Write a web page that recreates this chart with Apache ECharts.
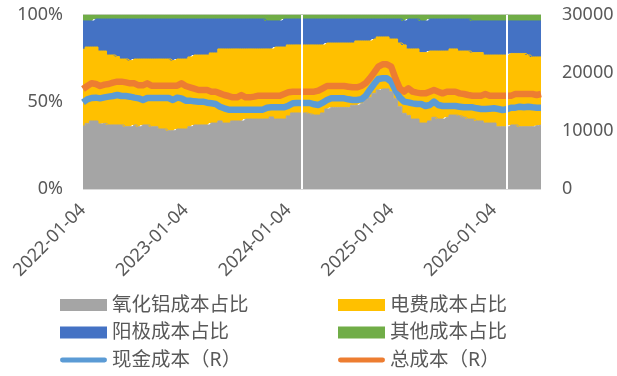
<!DOCTYPE html>
<html>
<head>
<meta charset="utf-8">
<style>
  html, body { margin: 0; padding: 0; background: #ffffff; }
  #chart { width: 617px; height: 376px; }
</style>
<script src="https://cdn.jsdelivr.net/npm/echarts@6/dist/echarts.min.js"></script>
</head>
<body>
<div id="chart"></div>
<script>
// Half-monthly observations (4th and 18th of each month), 2022-01-04 .. 2026-06-18
const categories = [];
for (let y = 2022; y <= 2026; y++) {
  for (let m = 1; m <= 12; m++) {
    if (y === 2026 && m > 6) break;
    const mm = String(m).padStart(2, '0');
    categories.push(y + '-' + mm + '-04', y + '-' + mm + '-18');
  }
}

// Cost shares, percent of total cost
const aluminaShare = [
  36.2, 37.7, 39.1, 39.1, 37.4, 37.7, 36.8, 36.8, 36.8, 36.8, 35.8, 35.8,
  36.8, 35.8, 36.8, 36.8, 35.8, 35.8, 34.5, 34.5, 33.5, 33.5, 34.5, 34.5,
  34.5, 35.8, 36.8, 36.8, 36.8, 36.8, 37.9, 37.9, 39.1, 37.9, 37.9, 39.1,
  39.1, 39.1, 40.2, 40.2, 40.2, 40.2, 40.2, 40.2, 41.4, 40.2, 40.2, 40.2,
  42.0, 43.7, 43.7, 43.7, 43.7, 43.1, 42.5, 42.5, 43.7, 46.0, 46.9, 46.9,
  46.9, 46.9, 46.9, 48.1, 48.1, 49.2, 51.1, 52.7, 55.0, 56.9, 57.5, 57.5,
  55.9, 52.1, 47.3, 43.5, 42.3, 40.2, 40.2, 37.9, 37.9, 39.1, 41.2, 40.2,
  40.2, 41.2, 42.5, 42.5, 42.0, 41.2, 40.2, 40.2, 39.1, 39.1, 37.9, 37.9,
  37.9, 35.8, 35.8, 35.8, 36.8, 36.8, 35.8, 35.8, 35.8, 35.8, 36.4, 36.8
];
const powerShare = [
  44.1, 43.9, 42.5, 42.5, 41.9, 41.6, 40.2, 40.2, 39.3, 37.9, 38.9, 38.0,
  37.9, 38.9, 37.9, 37.9, 38.9, 38.9, 40.2, 40.2, 41.2, 40.3, 40.2, 40.2,
  40.2, 40.1, 40.2, 40.2, 40.2, 40.2, 40.3, 40.3, 41.4, 42.6, 42.6, 41.4,
  41.4, 41.4, 40.3, 40.3, 40.3, 40.3, 40.3, 40.3, 39.1, 41.4, 41.4, 41.4,
  40.8, 39.1, 39.1, 39.1, 39.1, 39.7, 40.3, 40.3, 39.1, 37.9, 37.0, 37.0,
  37.0, 37.0, 37.0, 35.8, 37.0, 35.9, 34.0, 32.4, 31.2, 30.5, 29.9, 29.9,
  30.3, 34.1, 36.6, 39.3, 38.2, 40.3, 40.3, 40.5, 40.5, 40.2, 38.1, 39.1,
  39.1, 38.1, 38.0, 38.0, 37.3, 38.1, 39.1, 38.2, 39.3, 39.3, 39.1, 39.1,
  39.1, 41.2, 41.2, 41.2, 41.1, 41.1, 42.1, 42.1, 41.2, 40.1, 39.5, 39.1
];
const anodeShare = [
  16.3, 15.0, 15.0, 16.1, 18.4, 18.4, 20.7, 20.7, 21.6, 23.0, 23.0, 23.9,
  23.0, 23.0, 23.0, 23.0, 23.0, 23.0, 23.0, 23.0, 23.0, 23.9, 23.0, 23.0,
  23.0, 21.8, 20.7, 20.7, 20.7, 20.7, 19.5, 19.5, 17.2, 17.2, 17.2, 17.2,
  17.2, 17.2, 17.2, 17.2, 17.2, 17.2, 17.2, 16.1, 16.1, 15.0, 15.0, 16.1,
  14.9, 14.9, 14.9, 14.9, 14.9, 14.9, 14.9, 14.9, 14.9, 13.8, 13.8, 13.8,
  13.8, 13.8, 13.8, 13.8, 12.6, 12.6, 12.6, 12.6, 11.5, 10.3, 10.3, 10.3,
  11.5, 11.5, 13.8, 13.8, 17.2, 17.2, 17.2, 18.2, 18.2, 18.4, 18.4, 18.4,
  18.4, 18.4, 17.2, 17.2, 18.4, 18.4, 18.4, 18.2, 18.2, 18.2, 19.6, 19.6,
  19.6, 19.6, 19.6, 19.6, 18.7, 18.7, 18.7, 18.7, 19.6, 20.7, 20.7, 20.7
];
const otherShare = [
  3.4, 3.4, 3.4, 2.3, 2.3, 2.3, 2.3, 2.3, 2.3, 2.3, 2.3, 2.3,
  2.3, 2.3, 2.3, 2.3, 2.3, 2.3, 2.3, 2.3, 2.3, 2.3, 2.3, 2.3,
  2.3, 2.3, 2.3, 2.3, 2.3, 2.3, 2.3, 2.3, 2.3, 2.3, 2.3, 2.3,
  2.3, 2.3, 2.3, 2.3, 2.3, 2.3, 2.3, 3.4, 3.4, 3.4, 3.4, 2.3,
  2.3, 2.3, 2.3, 2.3, 2.3, 2.3, 2.3, 2.3, 2.3, 2.3, 2.3, 2.3,
  2.3, 2.3, 2.3, 2.3, 2.3, 2.3, 2.3, 2.3, 2.3, 2.3, 2.3, 2.3,
  2.3, 2.3, 2.3, 3.4, 2.3, 2.3, 2.3, 3.4, 3.4, 2.3, 2.3, 2.3,
  2.3, 2.3, 2.3, 2.3, 2.3, 2.3, 2.3, 3.4, 3.4, 3.4, 3.4, 3.4,
  3.4, 3.4, 3.4, 3.4, 3.4, 3.4, 3.4, 3.4, 3.4, 3.4, 3.4, 3.4
];

// Costs in yuan per tonne (right axis)
const cashCost = [
  14940, 15460, 15690, 15750, 15630, 15800, 15920, 16030, 16210, 16030, 16030, 15920,
  15750, 15630, 15340, 15690, 15690, 15690, 15690, 15690, 15690, 15340, 15750, 15630,
  15230, 15230, 15110, 15060, 15060, 14880, 14770, 14650, 14190, 13910, 13680, 13680,
  13680, 13680, 13680, 13680, 13680, 13680, 13680, 14020, 14080, 14080, 14080, 14080,
  14370, 14770, 14830, 14830, 14830, 14830, 14600, 14480, 14880, 15340, 15630, 15630,
  15630, 15630, 15460, 15340, 15340, 15460, 16030, 17070, 18100, 18970, 19080, 19080,
  18510, 17070, 15800, 15060, 14940, 14770, 14650, 14650, 14310, 14480, 15060, 14480,
  14310, 14310, 14310, 14310, 14190, 14080, 14080, 14080, 13910, 13790, 13790, 13850,
  13910, 13790, 13620, 13740, 14020, 14020, 14190, 14080, 14190, 14080, 14020, 14020
];
const totalCost = [
  17240, 17760, 18220, 18100, 17760, 17990, 18100, 18330, 18510, 18510, 18390, 18220,
  18220, 17870, 17870, 18220, 17820, 17820, 17820, 17820, 17820, 17820, 17820, 18220,
  17760, 17530, 17300, 17070, 17070, 17070, 16780, 16780, 16490, 16210, 16030, 15800,
  15800, 16210, 15800, 15800, 15920, 16090, 16090, 16090, 16090, 16090, 16090, 16380,
  16670, 16780, 16780, 16780, 16780, 16780, 16780, 16950, 17360, 17760, 17760, 17760,
  17760, 17760, 17640, 17530, 17530, 17760, 18220, 19080, 20060, 21090, 21490, 21490,
  21090, 19080, 17360, 16780, 17360, 16780, 16610, 16490, 16490, 16780, 17070, 16780,
  16490, 16780, 16780, 16780, 16490, 16380, 16210, 16090, 16090, 16090, 16380, 16090,
  16090, 16090, 16090, 16090, 16090, 16380, 16380, 16380, 16380, 16380, 16210, 16380
];

// Holiday breaks in the series
const breakDates = ['2024-02-18', '2026-02-18'];

const seriesNames = ['氧化铝成本占比', '电费成本占比', '阳极成本占比', '其他成本占比', '现金成本（R）', '总成本（R）'];
const colors = ['#A5A5A5', '#FFC000', '#4472C4', '#70AD47', '#5B9BD5', '#ED7D31'];
const shares = [aluminaShare, powerShare, anodeShare, otherShare];

const FONT = "'Noto Sans', 'Noto Sans CJK SC', sans-serif";
const TEXT = '#595959';

// Stacked shares drawn as stepped, filled areas (one flat step per observation)
const shareSeries = shares.map((arr, k) => ({
  name: seriesNames[k],
  type: 'line',
  stack: 'share',
  step: 'middle',
  yAxisIndex: 0,
  data: arr,
  symbol: 'none',
  z: 2,
  lineStyle: { color: colors[k], width: 1 },
  areaStyle: { color: colors[k], opacity: 1 },
  itemStyle: { color: colors[k] },
  emphasis: { disabled: true }
}));

// white gaps at the holiday breaks, drawn above everything
shareSeries[3].markLine = {
  silent: true,
  symbol: 'none',
  label: { show: false },
  lineStyle: { color: '#ffffff', width: 2, type: 'solid' },
  data: breakDates.map(d => ({ xAxis: d }))
};

const costSeries = [cashCost, totalCost].map((arr, k) => ({
  name: seriesNames[4 + k],
  type: 'line',
  yAxisIndex: 1,
  data: arr,
  symbol: 'none',
  z: 3,
  lineStyle: { color: colors[4 + k], width: 6.5, cap: 'butt', join: 'round' },
  itemStyle: { color: colors[4 + k] },
  emphasis: { disabled: true }
}));

// legend keys: filled block for shares, rounded stroke for the cost lines
const stroke = 'path://M2.6,0 L47.4,0 A2.6,2.6 0 0 1 47.4,5.2 L2.6,5.2 A2.6,2.6 0 0 1 2.6,0 Z';
const legendItem = k => ({ name: seriesNames[k], icon: k < 4 ? 'rect' : stroke });

const legendCommon = {
  orient: 'vertical',
  padding: 0,
  itemWidth: 47,
  itemHeight: 12,
  itemGap: 7.5,
  selectedMode: false,
  textStyle: { fontFamily: FONT, fontSize: 19.5, color: TEXT, lineHeight: 20 }
};

const chart = echarts.init(document.getElementById('chart'), null, { renderer: 'canvas' });
chart.setOption({
  animation: false,
  backgroundColor: '#ffffff',
  color: colors,
  grid: { left: 83, right: 76, top: 15, bottom: 187, outerBoundsMode: 'none' },
  legend: [
    Object.assign({ left: 60, top: 295, height: 80, data: [0, 2, 4].map(legendItem) }, legendCommon),
    Object.assign({ left: 338, top: 295, height: 80, data: [1, 3, 5].map(legendItem) }, legendCommon)
  ],
  xAxis: {
    type: 'category',
    data: categories,
    boundaryGap: false,
    axisLine: { show: false },
    axisTick: { show: false },
    axisLabel: {
      rotate: 45,
      margin: 18,
      fontFamily: FONT,
      fontSize: 18,
      color: TEXT,
      interval: (idx, val) => val.endsWith('-01-04')
    }
  },
  yAxis: [
    {
      type: 'value', min: 0, max: 100, interval: 50,
      axisLine: { show: false }, axisTick: { show: false },
      splitLine: { show: true, lineStyle: { color: '#D9D9D9', width: 2 } },
      axisLabel: { formatter: '{value}%', margin: 20, fontFamily: FONT, fontSize: 18, color: TEXT }
    },
    {
      type: 'value', min: 0, max: 30000, interval: 10000,
      axisLine: { show: false }, axisTick: { show: false },
      splitLine: { show: false },
      axisLabel: { formatter: v => String(v), margin: 21, fontFamily: FONT, fontSize: 18, color: TEXT }
    }
  ],
  series: shareSeries.concat(costSeries)
});
</script>
</body>
</html>
